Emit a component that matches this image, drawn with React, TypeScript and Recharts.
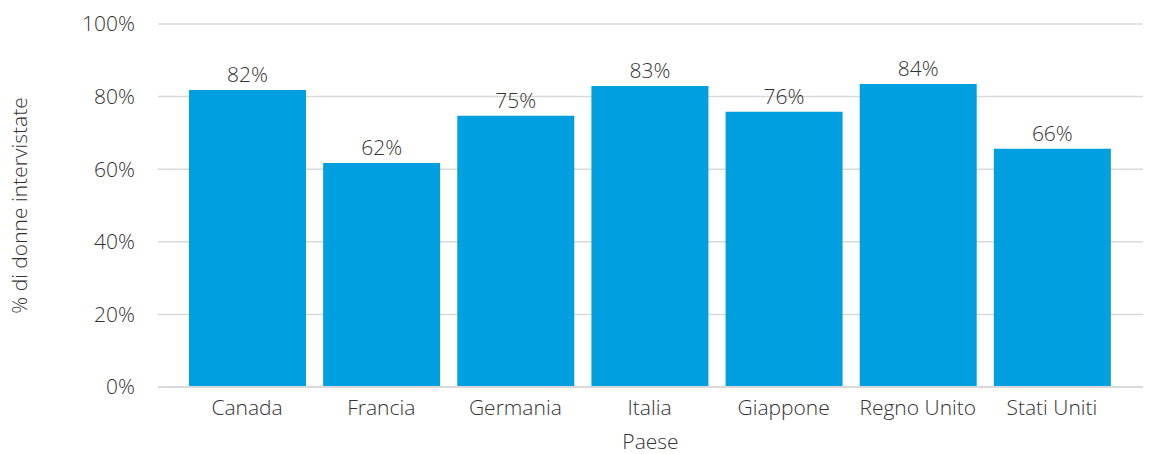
import React from 'react';
import { BarChart, Bar, XAxis, YAxis, CartesianGrid, LabelList } from 'recharts';

// Survey share per country
const countries = ['Canada', 'Francia', 'Germania', 'Italia', 'Giappone', 'Regno Unito', 'Stati Uniti'];
const shares = [81.8, 61.7, 74.7, 82.9, 75.8, 83.5, 65.6];
const yTicks = [0, 20, 40, 60, 80, 100];

const BAR_COLOR = '#009FDF';
const TEXT_COLOR = '#333333';
const GRID_COLOR = '#D9D9D9';
const FONT = '"Open Sans", "Noto Sans", sans-serif';
const FONT_WEIGHT = 300;
const FONT_SIZE = 21;

const data = countries.map((country, i) => ({ country, share: shares[i] }));

export default function App() {
  return (
    <div style={{ width: 1150, height: 454, fontFamily: FONT }}>
      <style>{`body { margin: 0; }`}</style>
      <BarChart
        width={1150}
        height={454}
        data={data}
        margin={{ top: 24, right: 7, bottom: 0, left: 0 }}
      >
        <CartesianGrid vertical={false} stroke={GRID_COLOR} strokeWidth={1.5} />
        <XAxis
          dataKey="country"
          height={67}
          padding={{ left: 22, right: 24 }}
          tickLine={false}
          tickSize={0}
          tickMargin={13}
          axisLine={{ stroke: GRID_COLOR, strokeWidth: 2 }}
          tick={{ fill: TEXT_COLOR, fontSize: FONT_SIZE, fontFamily: FONT, fontWeight: FONT_WEIGHT }}
          label={{
            value: 'Paese',
            position: 'insideBottom',
            offset: 5,
            fill: TEXT_COLOR,
            fontSize: FONT_SIZE,
            fontFamily: FONT,
            fontWeight: FONT_WEIGHT,
          }}
        />
        <YAxis
          width={158}
          domain={[0, 100]}
          ticks={yTicks}
          tickFormatter={(v: number) => `${v}%`}
          axisLine={false}
          tickLine={false}
          tickSize={0}
          tickMargin={23}
          tick={{ fill: TEXT_COLOR, fontSize: FONT_SIZE, fontFamily: FONT, fontWeight: FONT_WEIGHT }}
          label={{
            value: '% di donne intervistate',
            angle: -90,
            position: 'insideLeft',
            offset: 20,
            style: { textAnchor: 'middle' },
            fill: TEXT_COLOR,
            fontSize: FONT_SIZE,
            fontFamily: FONT,
            fontWeight: FONT_WEIGHT,
          }}
        />
        <Bar dataKey="share" fill={BAR_COLOR} barSize={117} isAnimationActive={false}>
          <LabelList
            dataKey="share"
            position="top"
            offset={8}
            formatter={(v: number) => `${Math.round(v)}%`}
            fill={TEXT_COLOR}
            fontSize={FONT_SIZE}
            fontFamily={FONT}
            fontWeight={FONT_WEIGHT}
          />
        </Bar>
      </BarChart>
    </div>
  );
}
